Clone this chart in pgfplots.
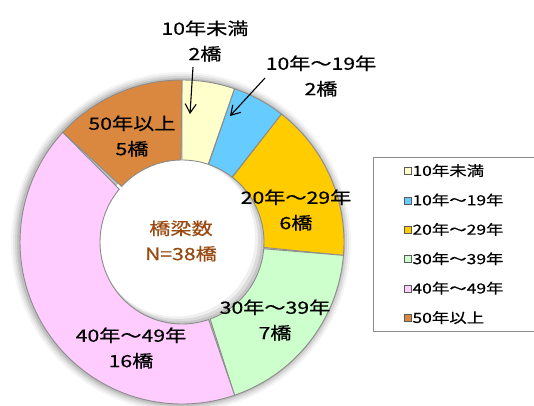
\documentclass[border=0pt]{standalone}
\usepackage{pgfplots}
\pgfplotsset{compat=1.18}
\usetikzlibrary{arrows.meta}
\usepackage{fontspec}
\newfontfamily\jp[FakeStretch=1.25, FakeBold=0.6]{Noto Sans CJK JP}
\newfontfamily\jpl[FakeStretch=1.25, FakeBold=0.3]{Noto Sans CJK JP}
\definecolor{c1}{HTML}{FFFFCC}
\definecolor{c2}{HTML}{66CCFF}
\definecolor{c3}{HTML}{FFCC00}
\definecolor{c4}{HTML}{CCFFCC}
\definecolor{c5}{HTML}{FFCCFF}
\definecolor{c6}{HTML}{DA8840}
\definecolor{edgegray}{HTML}{8C8C8C}
\definecolor{brownt}{HTML}{9A4A10}
% sector: start count, end count (of 38), colour
\newcommand{\sector}[3]{%
 \addplot[fill=#3, draw=edgegray, line width=0.9bp, domain=0:2, samples=121, variable=\t]
 ({ifthenelse(\t<=1.0001, 182+162*cos(90-360*(#1+(#2-#1)*\t)/38), 182+82*cos(90-360*(#2-(#2-#1)*(\t-1))/38))},
  {ifthenelse(\t<=1.0001, 242-162*sin(90-360*(#1+(#2-#1)*\t)/38), 242-82*sin(90-360*(#2-(#2-#1)*(\t-1))/38))}) -- cycle;}
\newcommand{\disc}[5]{% cx, cy, r, style
 \addplot[forget plot, draw=none, #4, domain=0:360, samples=120] ({#1+#3*cos(x)},{#2-#3*sin(x)}) -- cycle;}
\begin{document}
\begin{tikzpicture}
\begin{axis}[name=ax,
  width=534bp, height=406bp, scale only axis,
  xmin=0, xmax=534, ymin=0, ymax=406, y dir=reverse,
  axis lines=none, clip=false,
  legend image code/.code={\draw[#1, line width=0.6bp, draw=gray!70!black] (0bp,-3.5bp) rectangle (7bp,3.5bp);},
  legend style={at={(axis cs:373,157)}, anchor=north west, draw=edgegray, line width=0.8bp, fill=white,
    inner xsep=31bp, inner ysep=8bp, row sep=18.4bp,
    font=\jpl\fontsize{14}{16}\selectfont,
    nodes={inner sep=0.5bp, text height=10bp, text depth=0bp}},
  legend cell align=left,
]
% outer glow
\disc{181}{242}{170}{fill=black, fill opacity=0.04}{}
\disc{181}{242}{168}{fill=black, fill opacity=0.06}{}
\disc{181}{242}{166}{fill=black, fill opacity=0.08}{}
\disc{181}{242}{164}{fill=black, fill opacity=0.10}{}
% hole shading
\disc{182}{242}{82}{fill=white}{}
\disc{182}{242}{82}{fill=gray!45}{}
\disc{180}{240.5}{81}{fill=gray!28}{}
\disc{178}{239}{80}{fill=gray!12}{}
\disc{176}{237.5}{79}{fill=white}{}
% donut sectors
\sector{0}{2}{c1}
\sector{2}{4}{c2}
\sector{4}{10}{c3}
\sector{10}{17}{c4}
\sector{17}{33}{c5}
\sector{33}{38}{c6}
\legend{10年未満,10年～19年,20年～29年,30年～39年,40年～49年,50年以上}
% arrows
\addplot[forget plot, black, line width=1.1bp, -{Straight Barb[length=9bp,width=11bp]}] coordinates {(193,67) (190,114)};
\addplot[forget plot, black, line width=1.1bp, -{Straight Barb[length=9bp,width=11bp]}] coordinates {(265,78) (230,116)};
% labels
\begin{scope}[every node/.style={font=\jp\fontsize{17}{25.5}\selectfont, align=center, inner sep=0pt}]
\node at (axis cs:205,41) {10年未満\\2橋};
\node at (axis cs:321,76) {10年～19年\\2橋};
\node at (axis cs:296,210) {20年～29年\\6橋};
\node at (axis cs:275,320) {30年～39年\\7橋};
\node at (axis cs:131,348) {40年～49年\\16橋};
\node at (axis cs:132,136) {50年以上\\5橋};
\node[text=brownt] at (axis cs:181,241) {橋梁数\\N=38橋};
\end{scope}
\end{axis}
\pgfresetboundingbox
\path (ax.south west) rectangle (ax.north east);
\end{tikzpicture}
\end{document}
